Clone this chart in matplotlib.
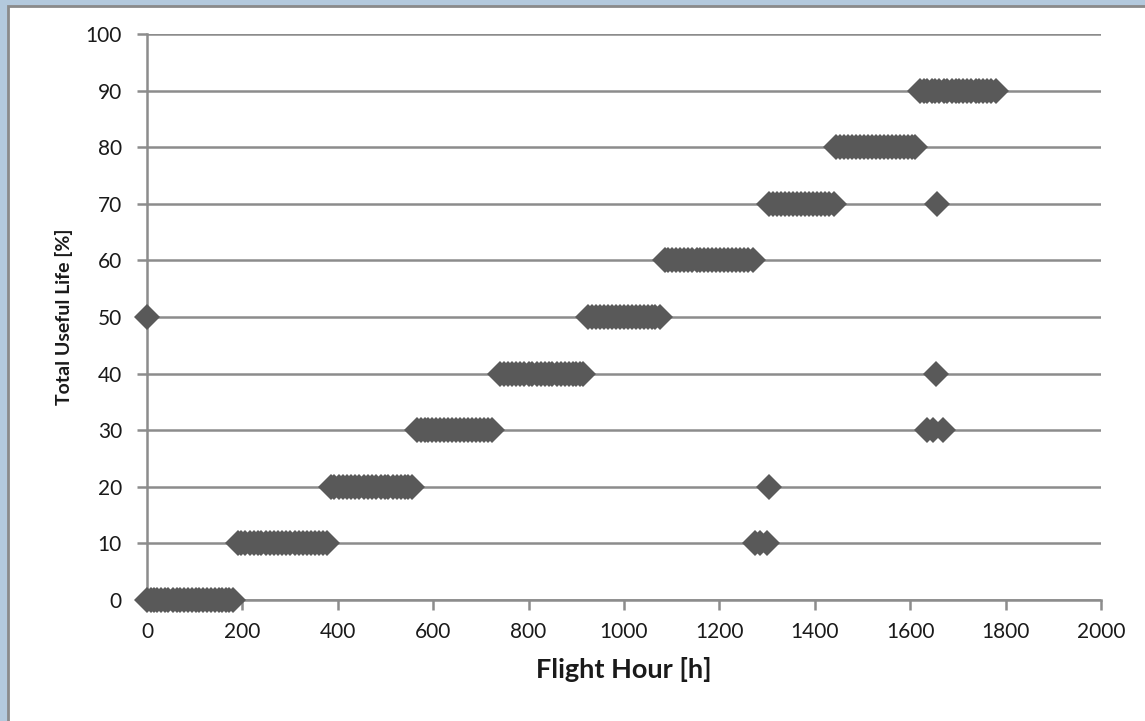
import matplotlib
matplotlib.use("Agg")
import matplotlib.pyplot as plt
from matplotlib.patches import Rectangle

# ---- data: flight hour samples at each useful-life level ----
life_0 = [0, 8, 15, 22, 30, 38, 45, 55, 62, 70, 78, 86, 95, 102, 110, 118, 126, 134, 142, 150, 158, 165, 172, 180]
life_10 = [190, 198, 206, 215, 224, 232, 240, 250, 258, 266, 275, 284, 292, 300, 310, 318, 326, 335, 344, 352, 360, 370, 378, 1275, 1285, 1300]
life_20 = [385, 393, 402, 410, 420, 428, 436, 445, 455, 463, 472, 480, 490, 498, 506, 515, 524, 532, 540, 548, 555, 1305]
life_30 = [566, 574, 582, 590, 598, 606, 615, 623, 632, 640, 648, 657, 665, 674, 682, 690, 699, 707, 715, 723, 1635, 1648, 1668]
life_40 = [740, 748, 756, 765, 773, 782, 790, 800, 808, 817, 825, 834, 842, 850, 860, 868, 876, 885, 893, 900, 908, 915, 1655]
life_50 = [0, 925, 933, 941, 950, 958, 966, 975, 983, 992, 1000, 1008, 1016, 1025, 1033, 1042, 1050, 1058, 1066, 1075]
life_60 = [1085, 1093, 1101, 1110, 1118, 1126, 1135, 1143, 1152, 1160, 1168, 1176, 1185, 1193, 1202, 1210, 1218, 1226, 1235, 1243, 1252, 1260, 1270]
life_70 = [1305, 1313, 1321, 1330, 1338, 1346, 1355, 1363, 1372, 1380, 1388, 1396, 1405, 1413, 1422, 1430, 1440, 1657]
life_80 = [1445, 1453, 1461, 1470, 1478, 1486, 1495, 1503, 1512, 1520, 1528, 1536, 1545, 1553, 1562, 1570, 1578, 1586, 1595, 1603, 1610]
life_90 = [1620, 1628, 1636, 1645, 1653, 1661, 1670, 1678, 1687, 1695, 1703, 1711, 1720, 1728, 1737, 1745, 1753, 1761, 1770, 1780]

levels = [0, 10, 20, 30, 40, 50, 60, 70, 80, 90]
series = [life_0, life_10, life_20, life_30, life_40, life_50, life_60, life_70, life_80, life_90]

x_ticks = [0, 200, 400, 600, 800, 1000, 1200, 1400, 1600, 1800, 2000]
y_ticks = [0, 10, 20, 30, 40, 50, 60, 70, 80, 90, 100]
x_label = "Flight Hour [h]"
y_label = "Total Useful Life [%]"

plt.rcParams['font.family'] = ['Lato', 'DejaVu Sans']

W, H = 1145, 721
fig = plt.figure(figsize=(W / 100, H / 100), dpi=100)
fig.patch.set_facecolor('#b3c9dd')

# white chart panel with grey border (left/top visible)
panel = Rectangle((8 / W, -0.1), 1.2, 1.1 - 6 / H, transform=fig.transFigure,
                  facecolor='white', edgecolor='#8a8a8a', linewidth=2, zorder=-10)
fig.add_artist(panel)

ax = fig.add_axes([147 / W, 1 - 600 / H, (1101 - 147) / W, (600 - 34) / H])
ax.set_zorder(5)
ax.set_facecolor('none')

grid_c = '#8c8c8c'
for lvl, xs in zip(levels, series):
    ax.plot(xs, [lvl] * len(xs), linestyle='none', marker='D', markersize=13.5,
            markerfacecolor='#595959', markeredgecolor='#595959', markeredgewidth=0,
            zorder=3, clip_on=False)

ax.set_xlim(0, 2000)
ax.set_ylim(0, 100)
ax.set_xticks(x_ticks)
ax.set_yticks(y_ticks)
ax.yaxis.grid(True, color=grid_c, linewidth=1.8)
ax.set_axisbelow(True)

for s in ['top', 'right']:
    ax.spines[s].set_visible(False)
for s in ['left', 'bottom']:
    ax.spines[s].set_color(grid_c)
    ax.spines[s].set_linewidth(1.8)

ax.tick_params(axis='both', direction='out', length=7, width=1.8, color=grid_c,
               labelsize=15, labelcolor='#1a1a1a')
ax.tick_params(axis='x', pad=9)
ax.tick_params(axis='y', pad=11)

ax.set_xlabel(x_label, fontsize=19.5, fontweight='bold', color='#1a1a1a', labelpad=11)
ax.set_ylabel(y_label, fontsize=14, fontweight='bold', color='#1a1a1a', labelpad=9)

fig.savefig('out.png', dpi=100, facecolor=fig.get_facecolor())
